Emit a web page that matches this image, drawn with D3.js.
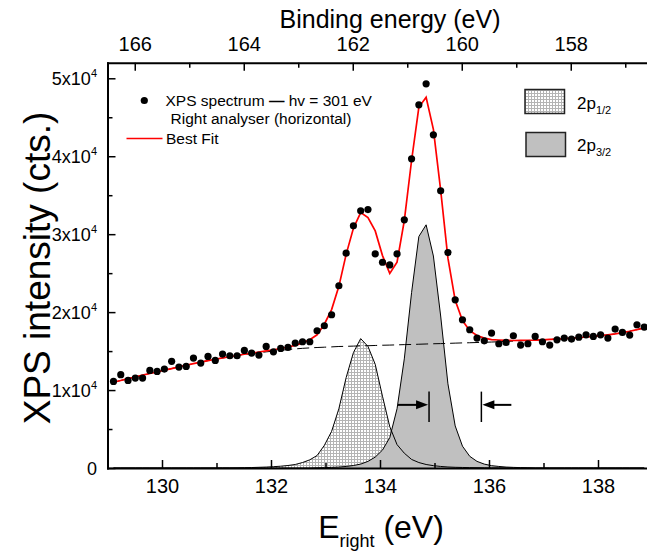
<!DOCTYPE html>
<html>
<head>
<meta charset="utf-8">
<script src="https://cdn.jsdelivr.net/npm/d3@7"></script>
<style>
  html, body { margin: 0; padding: 0; background: #fff; }
  svg { display: block; font-family: "Liberation Sans", Arial, Helvetica, sans-serif; }
</style>
</head>
<body>
<svg id="chart" width="647" height="552"></svg>
<script>
// Kinetic-energy sampling grid of the spectrum (eV)
const energyStart = 129.11;
const energyStep = 0.1334;

// Measured XPS intensity (counts) at each grid point
const counts = [11110, 11970, 11240, 11540, 11540, 12520, 12390, 12690, 13680, 12950,
  13030, 14100, 13460, 14320, 13800, 14620, 14400, 14400, 15090, 14740,
  14490, 15600, 14910, 15340, 15470, 16030, 16200, 16200, 17610, 18250,
  19660, 23380, 27560, 31070, 32990, 33160, 27470, 26400, 26060, 27470,
  31840, 39670, 46600, 49290, 42750, 35560, 27640, 21580, 19020, 17740,
  16670, 16320, 17310, 15940, 16110, 16970, 15770, 15940, 16880, 16200,
  15770, 16450, 16670, 16540, 16790, 17090, 16880, 17090, 16670, 17820,
  17390, 17050, 18380, 18080];

// Background under the peaks (dashed line)
const background = [11000, 11230, 11460, 11680, 11910, 12130, 12340, 12550, 12760, 12970,
  13180, 13390, 13590, 13780, 13950, 14110, 14260, 14410, 14560, 14680,
  14790, 14900, 15000, 15100, 15200, 15280, 15350, 15410, 15460, 15500,
  15540, 15590, 15610, 15640, 15670, 15690, 15720, 15750, 15770, 15800,
  15830, 15850, 15880, 15910, 15940, 15960, 15990, 16020, 16050, 16070,
  16100, 16130, 16160, 16200, 16240, 16280, 16320, 16360, 16400, 16440,
  16490, 16540, 16600, 16660, 16730, 16810, 16890, 16980, 17080, 17200,
  17360, 17540, 17750, 17980];

// 2p1/2 component
const comp12 = [0, 0, 0, 0, 0, 0, 0, 0, 0, 0,
  0, 0, 0, 0, 0, 10, 10, 20, 40, 60,
  90, 120, 170, 230, 320, 450, 700, 1050, 1600, 2900,
  4700, 7600, 11600, 14800, 16600, 15600, 13300, 9200, 5300, 3000,
  1900, 1100, 700, 450, 300, 200, 130, 90, 70, 50,
  40, 30, 20, 20, 10, 0, 0, 0, 0, 0,
  0, 0, 0, 0, 0, 0, 0, 0, 0, 0,
  0, 0, 0, 0];

// 2p3/2 component
const comp32 = [0, 0, 0, 0, 0, 0, 0, 0, 0, 0,
  0, 0, 0, 0, 0, 0, 0, 0, 0, 0,
  0, 0, 0, 0, 0, 0, 0, 0, 30, 50,
  80, 120, 200, 320, 500, 850, 1400, 2300, 3900, 7600,
  14000, 22500, 29700, 31200, 27200, 19500, 10800, 5400, 2800, 1500,
  850, 500, 300, 200, 120, 80, 50, 30, 0, 0,
  0, 0, 0, 0, 0, 0, 0, 0, 0, 0,
  0, 0, 0, 0];

// Best fit (background + both components)
const fitTotal = [11000, 11230, 11460, 11680, 11910, 12130, 12340, 12550, 12760, 12970,
  13180, 13390, 13590, 13780, 13950, 14120, 14270, 14430, 14600, 14740,
  14880, 15020, 15170, 15330, 15520, 15730, 16050, 16460, 17090, 18450,
  20320, 23310, 27410, 30760, 32770, 32140, 30420, 27250, 24970, 26400,
  31730, 39450, 46280, 47560, 43440, 35660, 26920, 21510, 18920, 17620,
  16990, 16660, 16480, 16420, 16370, 16360, 16370, 16390, 16400, 16440,
  16490, 16540, 16600, 16660, 16730, 16810, 16890, 16980, 17080, 17200,
  17360, 17540, 17750, 17980];

// Axis ticks
const bottomTicks = [130, 132, 134, 136, 138];
const bottomMinor = [129, 131, 133, 135, 137, 139];
const topTicks = [166, 164, 162, 160, 158];
const topMinor = [165, 163, 161, 159, 157];
const yTicks = [0, 10000, 20000, 30000, 40000, 50000];
const yMinor = [5000, 15000, 25000, 35000, 45000];
const bindingSum = 295.5;   // binding energy + E_right

// Width markers (eV, counts)
const markers = [
  { bar: 134.9, tail: 134.33 },
  { bar: 135.86, tail: 136.41 }
];
const markerLevel = 8100, barLow = 5900, barHigh = 9800;

const energies = counts.map((_, i) => energyStart + i * energyStep);
const rows = energies.map((e, i) => ({
  e, c: counts[i], bg: background[i], fit: fitTotal[i], p12: comp12[i], p32: comp32[i]
}));

const FONT = '"Liberation Sans", Arial, Helvetica, sans-serif';
const svg = d3.select("#chart");

const pL = 107.5, pR = 652.5, pT = 62.7, pB = 468;
const x = d3.scaleLinear().domain([129, 139]).range([pL, pR]);
const xTop = d3.scaleLinear().domain([bindingSum - 129, bindingSum - 139]).range([pL, pR]);
const y = d3.scaleLinear().domain([0, 52000]).range([pB, pT]);

// hatch pattern for the 2p1/2 fill
const defs = svg.append("defs");
const pat = defs.append("pattern").attr("id", "hatch")
  .attr("width", 3).attr("height", 3).attr("patternUnits", "userSpaceOnUse");
pat.append("rect").attr("width", 3).attr("height", 3).attr("fill", "#fff");
pat.append("path").attr("d", "M0,0.5H3M0.5,0V3")
  .attr("stroke", "#b4b4b4").attr("stroke-width", 1).attr("fill", "none");
defs.append("clipPath").attr("id", "plotClip")
  .append("rect").attr("x", pL).attr("y", pT).attr("width", pR - pL).attr("height", pB - pT);

const plot = svg.append("g").attr("clip-path", "url(#plotClip)");

const area12 = d3.area().x(d => x(d.e)).y0(y(0)).y1(d => y(d.p12));
const area32 = d3.area().x(d => x(d.e)).y0(y(0)).y1(d => y(d.p32));
const line12 = d3.line().x(d => x(d.e)).y(d => y(d.p12));
const line32 = d3.line().x(d => x(d.e)).y(d => y(d.p32));
const lineBg = d3.line().x(d => x(d.e)).y(d => y(d.bg));
const lineFit = d3.line().x(d => x(d.e)).y(d => y(d.fit));

plot.append("path").datum(rows).attr("d", area12).attr("fill", "url(#hatch)");
plot.append("path").datum(rows).attr("d", area32).attr("fill", "#c0c0c0");
plot.append("path").datum(rows).attr("d", line12)
  .attr("fill", "none").attr("stroke", "#000").attr("stroke-width", 1);
plot.append("path").datum(rows).attr("d", line32)
  .attr("fill", "none").attr("stroke", "#000").attr("stroke-width", 1);

plot.append("path").datum(rows).attr("d", lineBg)
  .attr("fill", "none").attr("stroke", "#000").attr("stroke-width", 1)
  .attr("stroke-dasharray", "12,5");
plot.append("path").datum(rows).attr("d", lineFit)
  .attr("fill", "none").attr("stroke", "#ff0000").attr("stroke-width", 1.7);

plot.append("g").selectAll("circle").data(rows).join("circle")
  .attr("cx", d => x(d.e)).attr("cy", d => y(d.c)).attr("r", 3.6).attr("fill", "#000");

// width markers: vertical bar plus arrow pointing at it
const mk = svg.append("g");
markers.forEach(m => {
  const xb = x(m.bar), xtail = x(m.tail), ym = y(markerLevel);
  const dir = Math.sign(xb - xtail);
  mk.append("line").attr("x1", xb).attr("x2", xb).attr("y1", y(barLow)).attr("y2", y(barHigh))
    .attr("stroke", "#000").attr("stroke-width", 1.5);
  const tip = xb - dir * 1;
  mk.append("line").attr("x1", xtail).attr("x2", tip - dir * 10).attr("y1", ym).attr("y2", ym)
    .attr("stroke", "#000").attr("stroke-width", 2);
  mk.append("path")
    .attr("d", `M${tip},${ym}L${tip - dir * 12},${ym - 4.5}L${tip - dir * 12},${ym + 4.5}Z`)
    .attr("fill", "#000");
});

// axes
function styleAxis(g, fs) {
  g.attr("font-family", FONT).attr("font-size", fs);
  g.select(".domain").attr("stroke", "#000").attr("stroke-width", 2).attr("stroke-linecap", "square");
  g.selectAll(".tick line").attr("stroke", "#000").attr("stroke-width", 1.5);
  g.selectAll(".tick text").attr("fill", "#000");
}

const gB = svg.append("g").attr("transform", `translate(0,${pB})`)
  .call(d3.axisBottom(x).tickValues(bottomTicks).tickSize(-8).tickSizeOuter(0).tickPadding(11).tickFormat(d3.format("d")));
styleAxis(gB, 20);
const gBm = svg.append("g").attr("transform", `translate(0,${pB})`)
  .call(d3.axisBottom(x).tickValues(bottomMinor).tickSize(-5).tickSizeOuter(0).tickFormat(""));
styleAxis(gBm, 20); gBm.select(".domain").remove();

const gT = svg.append("g").attr("transform", `translate(0,${pT})`)
  .call(d3.axisTop(xTop).tickValues(topTicks).tickSize(-8).tickSizeOuter(0).tickPadding(12).tickFormat(d3.format("d")));
styleAxis(gT, 20);
const gTm = svg.append("g").attr("transform", `translate(0,${pT})`)
  .call(d3.axisTop(xTop).tickValues(topMinor).tickSize(-5).tickSizeOuter(0).tickFormat(""));
styleAxis(gTm, 20); gTm.select(".domain").remove();

const gL = svg.append("g").attr("transform", `translate(${pL},0)`)
  .call(d3.axisLeft(y).tickValues(yTicks).tickSize(-8).tickSizeOuter(0).tickFormat(""));
styleAxis(gL, 18);
const gLm = svg.append("g").attr("transform", `translate(${pL},0)`)
  .call(d3.axisLeft(y).tickValues(yMinor).tickSize(-5).tickSizeOuter(0).tickFormat(""));
styleAxis(gLm, 18); gLm.select(".domain").remove();

// y tick labels in the form  n x 10^4
const yl = svg.append("g").attr("font-family", FONT).attr("fill", "#000");
yTicks.forEach(v => {
  const t = yl.append("text").attr("text-anchor", "end").attr("font-size", 18)
    .attr("x", 97).attr("y", y(v) + 6.5);
  if (v === 0) {
    t.text("0");
  } else {
    t.append("tspan").text(`${v / 10000}x10`);
    t.append("tspan").attr("font-size", 11).attr("dy", -8).text("4");
  }
});

// axis titles
svg.append("text").attr("x", 390).attr("y", 28).attr("text-anchor", "middle")
  .attr("font-family", FONT).attr("font-size", 25).text("Binding energy (eV)");

const xTitle = svg.append("text").attr("x", 381).attr("y", 538).attr("text-anchor", "middle")
  .attr("font-family", FONT).attr("font-size", 32);
xTitle.append("tspan").text("E");
xTitle.append("tspan").attr("font-size", 18).attr("dy", 9).text("right");
xTitle.append("tspan").attr("dy", -9).text(" (eV)");

svg.append("text").attr("transform", "translate(50,268) rotate(-90)").attr("text-anchor", "middle")
  .attr("font-family", FONT).attr("font-size", 37).text("XPS intensity (cts.)");

// legend: data and fit
const lg = svg.append("g").attr("font-family", FONT).attr("font-size", 15.5).attr("fill", "#000");
lg.append("circle").attr("cx", 144.3).attr("cy", 100.5).attr("r", 3.6).attr("fill", "#000");
const l1 = lg.append("text").attr("x", 165.5).attr("y", 105.5);
l1.append("tspan").text("XPS spectrum ");
l1.append("tspan").attr("font-weight", "bold").text("\u2014");
l1.append("tspan").text(" hv = 301 eV");
lg.append("text").attr("x", 170.5).attr("y", 124).text("Right analyser (horizontal)");
lg.append("line").attr("x1", 126.5).attr("x2", 162.5).attr("y1", 138.5).attr("y2", 138.5)
  .attr("stroke", "#ff0000").attr("stroke-width", 1.7);
lg.append("text").attr("x", 166).attr("y", 144).text("Best Fit");

// legend: components
const lc = svg.append("g").attr("font-family", FONT).attr("fill", "#000");
lc.append("rect").attr("x", 525).attr("y", 89.5).attr("width", 39.5).attr("height", 24)
  .attr("fill", "url(#hatch)").attr("stroke", "#222").attr("stroke-width", 1.5);
lc.append("rect").attr("x", 526).attr("y", 132.5).attr("width", 39.5).attr("height", 24)
  .attr("fill", "#c0c0c0").attr("stroke", "#222").attr("stroke-width", 1.5);
[["1/2", 108.5], ["3/2", 151]].forEach(([sub, yy]) => {
  const t = lc.append("text").attr("x", 577).attr("y", yy).attr("font-size", 17);
  t.append("tspan").text("2p");
  t.append("tspan").attr("font-size", 11).attr("dy", 5).text(sub);
});
</script>
</body>
</html>
